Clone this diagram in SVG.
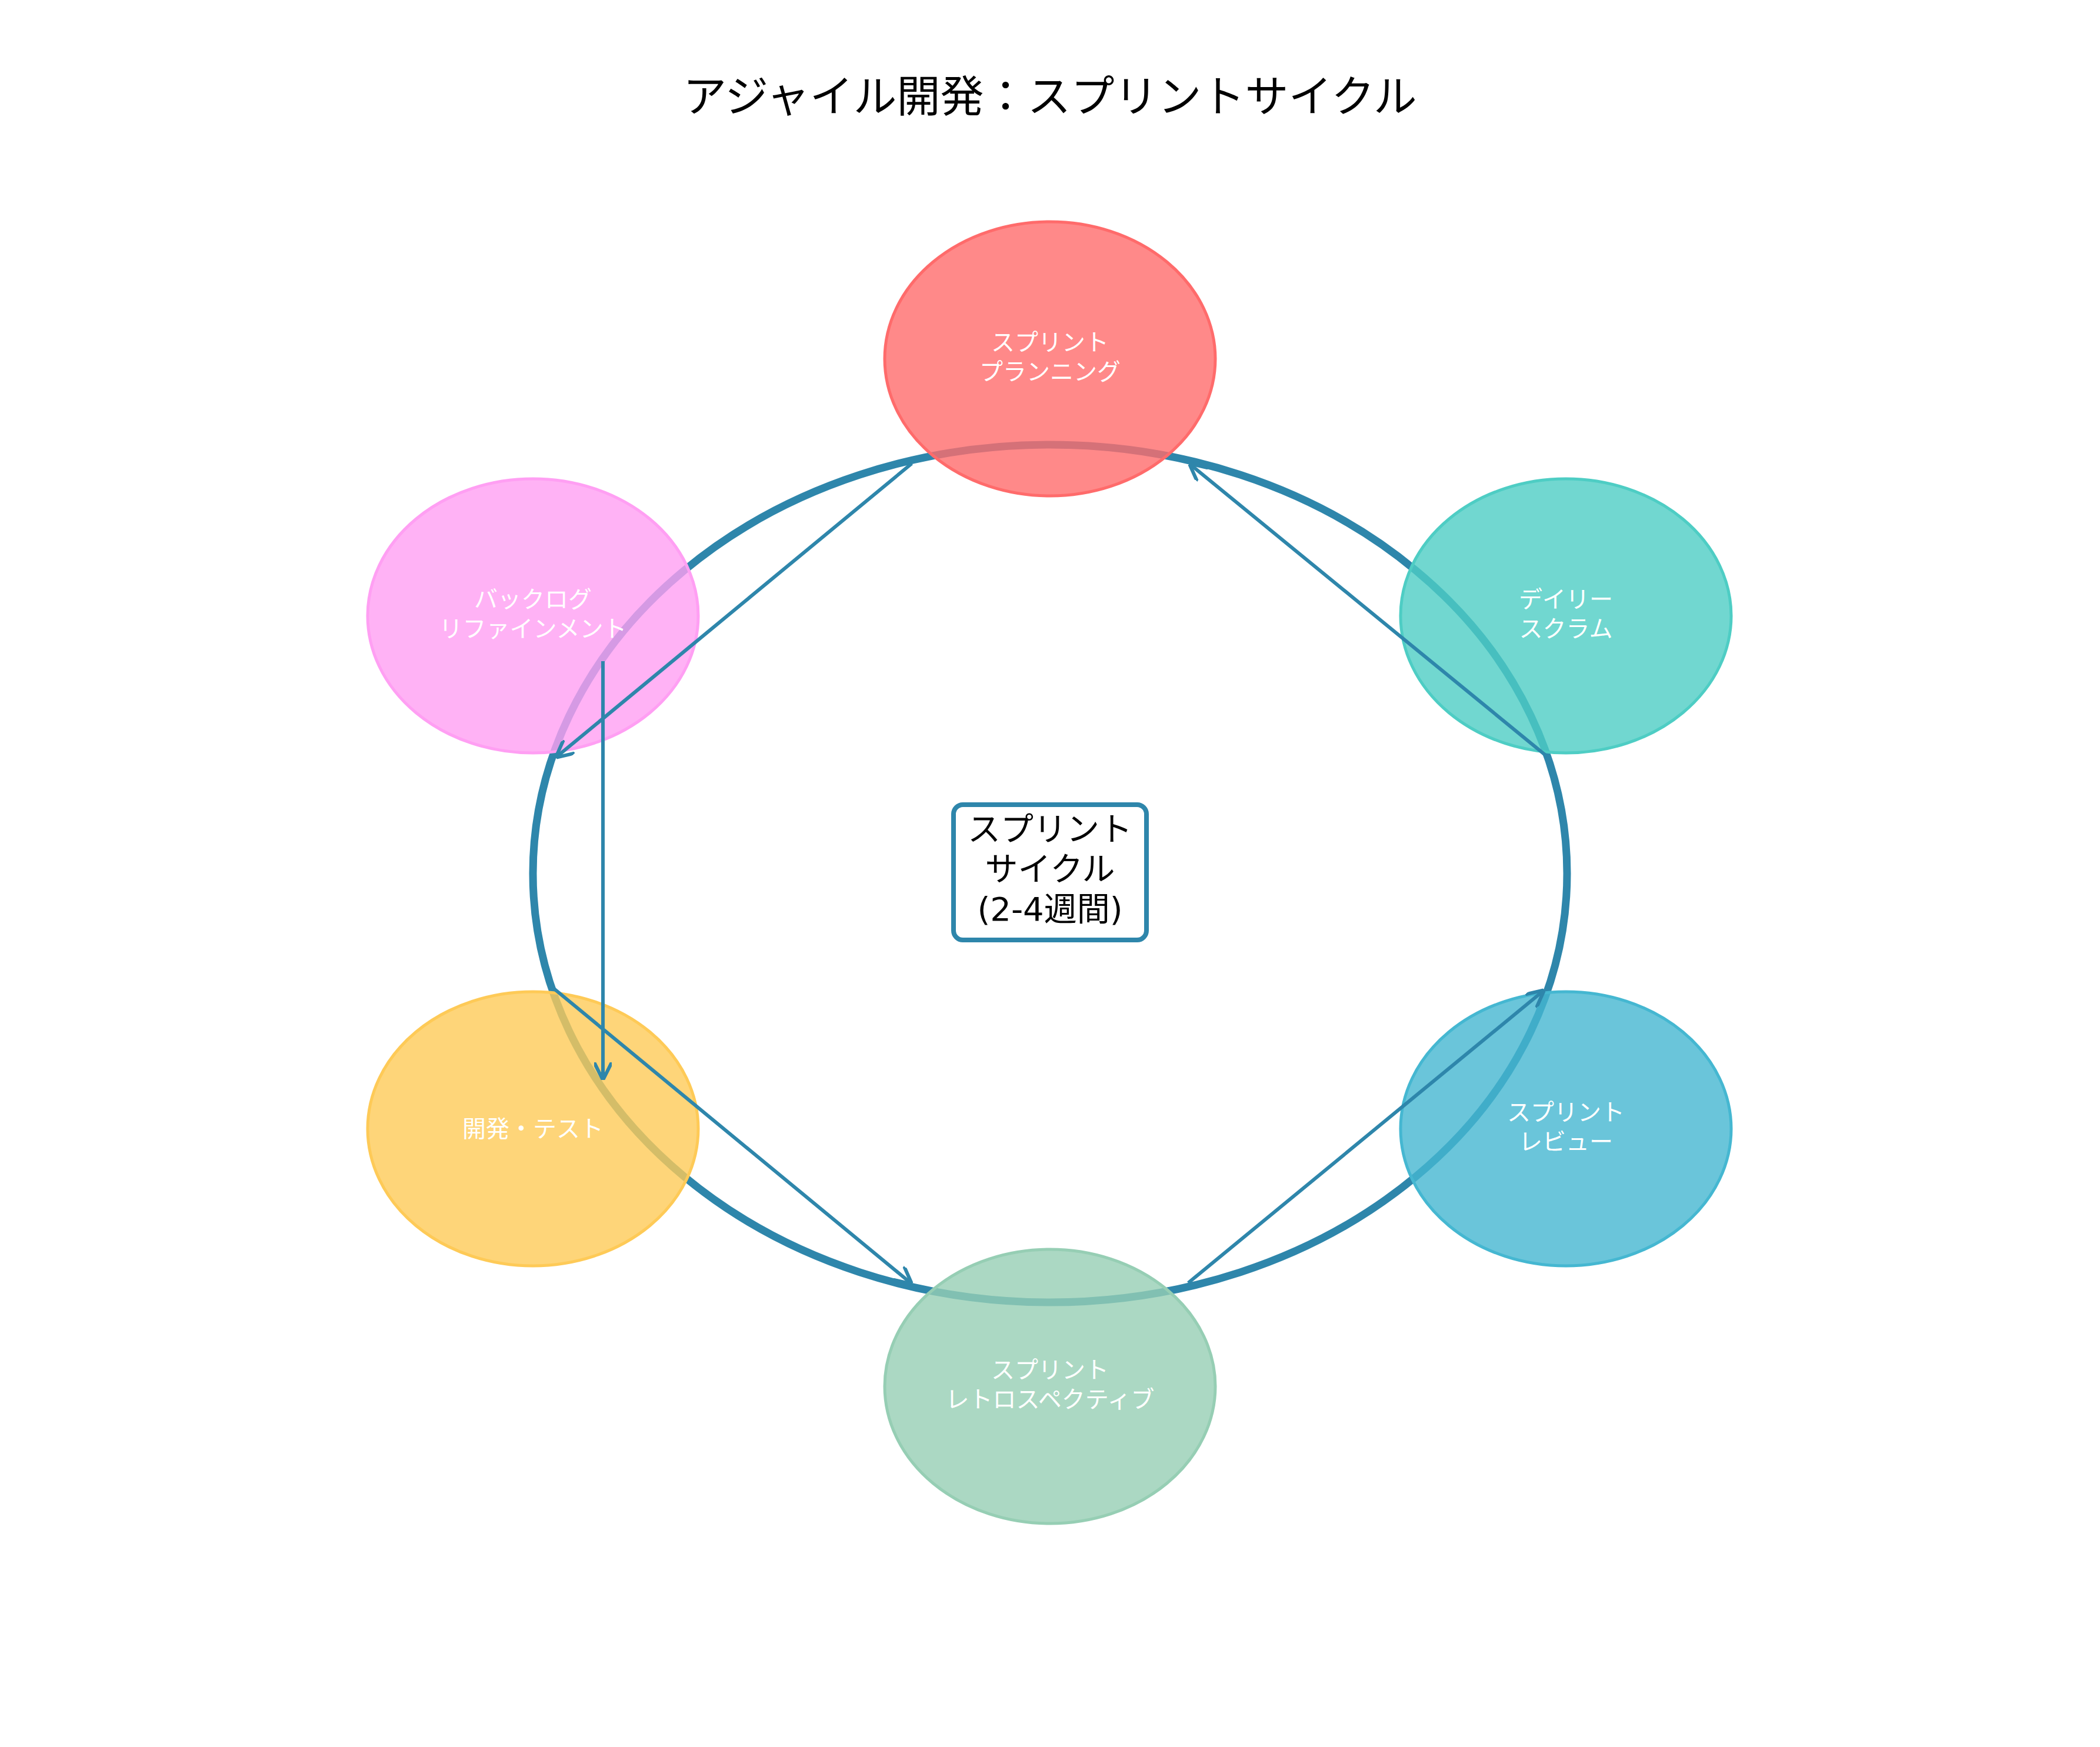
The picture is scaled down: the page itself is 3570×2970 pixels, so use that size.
<svg xmlns="http://www.w3.org/2000/svg" width="3570" height="2970" viewBox="0 0 3570 2970">
<style>
.t{font-family:"DejaVu Sans","Noto Sans CJK JP",sans-serif}
.n{fill-opacity:0.8;stroke-width:5}
.nl{font-size:40px;fill:#fff;text-anchor:middle}
.c{stroke:#2E86AB;stroke-width:6;fill:none;marker-end:url(#a)}
</style>
<defs><marker id="a" viewBox="0 0 10 10" refX="9" refY="5" markerWidth="5" markerHeight="5" orient="auto" markerUnits="strokeWidth"><path d="M0,0 L10,5 L0,10" fill="none" stroke="#2E86AB" stroke-width="2"/></marker></defs>
<rect width="3570" height="2970" fill="#fff"/>
<text class="t" x="1785" y="190" font-size="74" text-anchor="middle">アジャイル開発：スプリントサイクル</text>
<ellipse cx="1785" cy="1485" rx="879" ry="729" fill="none" stroke="#2E86AB" stroke-width="13"/>
<g id="n1"><ellipse class="n" cx="1785" cy="610" rx="281" ry="233" fill="#FF6B6B" stroke="#FF6B6B"/><text class="t nl" x="1785" y="596">スプリント</text><text class="t nl" x="1785" y="646">プランニング</text></g>
<g id="n2"><ellipse class="n" cx="2662" cy="1047" rx="281" ry="233" fill="#4ECDC4" stroke="#4ECDC4"/><text class="t nl" x="2662" y="1033">デイリー</text><text class="t nl" x="2662" y="1083">スクラム</text></g>
<g id="n3"><ellipse class="n" cx="906" cy="1047" rx="281" ry="233" fill="#FF9FF3" stroke="#FF9FF3"/><text class="t nl" x="906" y="1033">バックログ</text><text class="t nl" x="906" y="1083">リファインメント</text></g>
<g id="n4"><ellipse class="n" cx="906" cy="1919" rx="281" ry="233" fill="#FECA57" stroke="#FECA57"/><text class="t nl" x="906" y="1933">開発・テスト</text></g>
<g id="n5"><ellipse class="n" cx="2662" cy="1919" rx="281" ry="233" fill="#45B7D1" stroke="#45B7D1"/><text class="t nl" x="2662" y="1905">スプリント</text><text class="t nl" x="2662" y="1955">レビュー</text></g>
<g id="n6"><ellipse class="n" cx="1785" cy="2357" rx="281" ry="233" fill="#96CEB4" stroke="#96CEB4"/><text class="t nl" x="1785" y="2343">スプリント</text><text class="t nl" x="1785" y="2393">レトロスペクティブ</text></g>
<g id="center"><rect x="1621" y="1368" width="328" height="230" rx="16" fill="#fff" stroke="#2E86AB" stroke-width="8"/>
<text class="t" x="1785" y="1429" font-size="56" text-anchor="middle">スプリント</text>
<text class="t" x="1785" y="1497" font-size="56" text-anchor="middle">サイクル</text>
<text class="t" x="1785" y="1565" font-size="56" text-anchor="middle">(2-4週間)</text></g>
<g id="connectors">
<line class="c" x1="1550" y1="788" x2="947" y2="1286"/>
<line class="c" x1="1025" y1="1124" x2="1025" y2="1833"/>
<line class="c" x1="942" y1="1681" x2="1548" y2="2181"/>
<line class="c" x1="2020" y1="2181" x2="2623" y2="1685"/>
<line class="c" x1="2630" y1="1286" x2="2024" y2="790"/>
</g>
</svg>
